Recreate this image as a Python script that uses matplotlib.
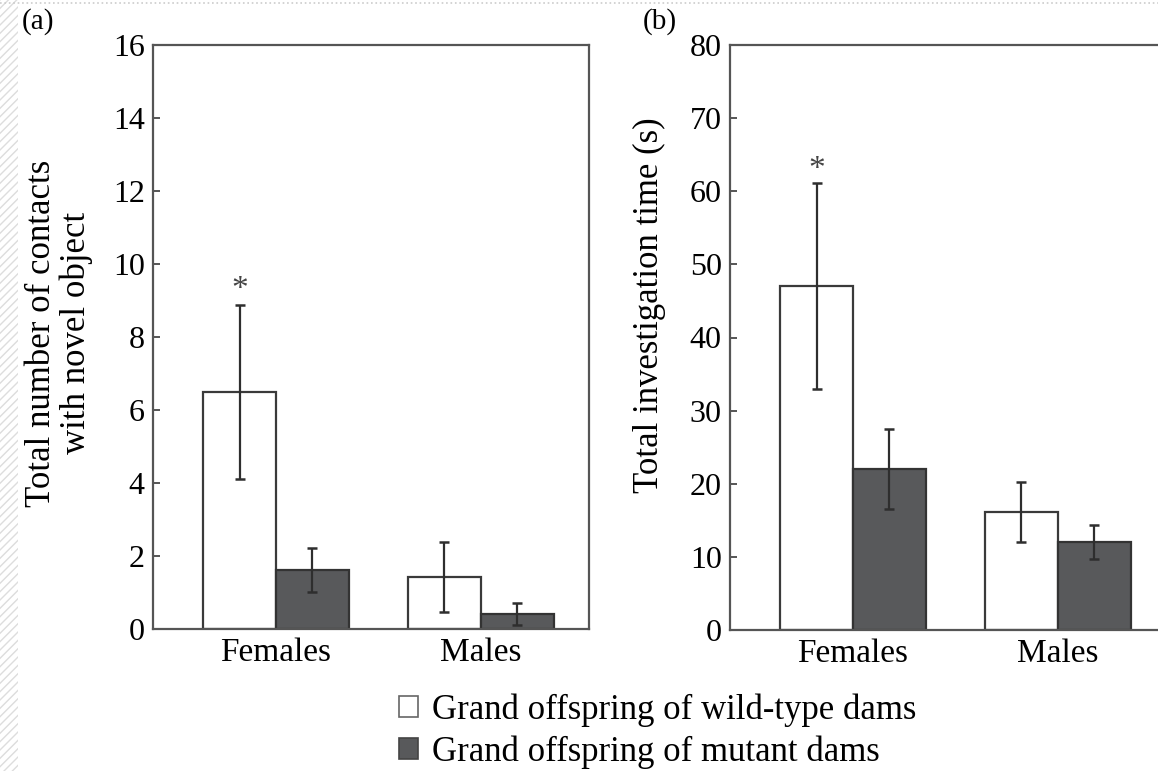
import matplotlib
matplotlib.use("Agg")
import matplotlib.pyplot as plt
from matplotlib.patches import Patch, Rectangle
import numpy as np

categories = ["Females", "Males"]
groups = ["Grand offspring of wild-type dams", "Grand offspring of mutant dams"]

contacts_wt = [6.5, 1.42]
contacts_wt_err = [2.38, 0.96]
contacts_mut = [1.62, 0.41]
contacts_mut_err = [0.6, 0.3]

time_wt = [47.0, 16.1]
time_wt_err = [14.1, 4.1]
time_mut = [22.0, 12.0]
time_mut_err = [5.5, 2.3]

yticks_a = [0, 2, 4, 6, 8, 10, 12, 14, 16]
yticks_b = [0, 10, 20, 30, 40, 50, 60, 70, 80]

plt.rcParams['font.family'] = ['Liberation Serif', 'DejaVu Serif']

WHITE = "#ffffff"
DARK = "#58595b"
EDGE = "#3a3a3a"
SPINE = "#555555"

fig = plt.figure(figsize=(11.58, 7.71), dpi=100)
W, H = 1158, 771

def px_axes(l, t, r, b):
    return fig.add_axes([l / W, 1 - b / H, (r - l) / W, (b - t) / H])

ax_a = px_axes(153, 45, 589, 629)
ax_b = px_axes(730, 45, 1166, 630)

x = np.arange(len(categories))
bw = 0.356

def draw(ax, wt, wte, mut, mute, yticks, ylabel, star):
    ax.bar(x - bw / 2, wt, bw, color=WHITE, edgecolor=EDGE, linewidth=1.6, zorder=2)
    ax.bar(x + bw / 2, mut, bw, color=DARK, edgecolor="#333333", linewidth=1.6, zorder=2)
    ax.errorbar(x - bw / 2, wt, yerr=wte, fmt="none", ecolor="#2e2e2e",
                elinewidth=1.6, capsize=3.5, capthick=1.8, zorder=3)
    ax.errorbar(x + bw / 2, mut, yerr=mute, fmt="none", ecolor="#2e2e2e",
                elinewidth=1.6, capsize=3.5, capthick=1.8, zorder=3)
    ax.set_xlim(-0.6, 1.527)
    ax.set_ylim(yticks[0], yticks[-1])
    ax.set_yticks(yticks)
    ax.set_xticks(x)
    ax.set_xticklabels(categories, fontsize=24)
    ax.tick_params(axis='x', length=0, pad=6)
    ax.tick_params(axis='y', direction='in', length=5, width=1.4, color=SPINE,
                   labelsize=23, pad=6)
    for s in ax.spines.values():
        s.set_color(SPINE)
        s.set_linewidth(1.6)
    ax.set_ylabel(ylabel, fontsize=25, linespacing=1.05)
    ax.text(x[0] - bw / 2, star, "*", ha="center", va="center", fontsize=24,
            color="#444444")

draw(ax_a, contacts_wt, contacts_wt_err, contacts_mut, contacts_mut_err,
     yticks_a, "Total number of contacts\nwith novel object", 9.3)
draw(ax_b, time_wt, time_wt_err, time_mut, time_mut_err,
     yticks_b, "Total investigation time (s)", 63.0)
ax_a.yaxis.set_label_coords(-0.138, 0.507)
ax_b.yaxis.set_label_coords(-0.147, 0.556)

fig.text(22 / W, 1 - 22 / H, "(a)", fontsize=21, ha="left", va="center")
fig.text(643 / W, 1 - 22 / H, "(b)", fontsize=21, ha="left", va="center")

handles = [Patch(facecolor=WHITE, edgecolor="#666666", linewidth=1.2),
           Patch(facecolor=DARK, edgecolor="#444444", linewidth=1.2)]
fig.legend(handles, groups, loc="center", bbox_to_anchor=(658 / W, 1 - 731 / H),
           frameon=False, fontsize=25, handlelength=0.55, handleheight=0.55,
           handletextpad=0.4, labelspacing=0.25, borderpad=0)

# page edge decorations: faint hatching at left, dotted top border
fig.patches.append(Rectangle((0, 0), 18 / W, 1, transform=fig.transFigure,
                             facecolor="none", edgecolor="#dddddd", hatch="////",
                             linewidth=0))
fig.add_artist(plt.Line2D([0, 1], [1 - 3 / H, 1 - 3 / H], transform=fig.transFigure,
                          color="#cccccc", linestyle=":", linewidth=1.2))

fig.savefig("out.png", dpi=100)
